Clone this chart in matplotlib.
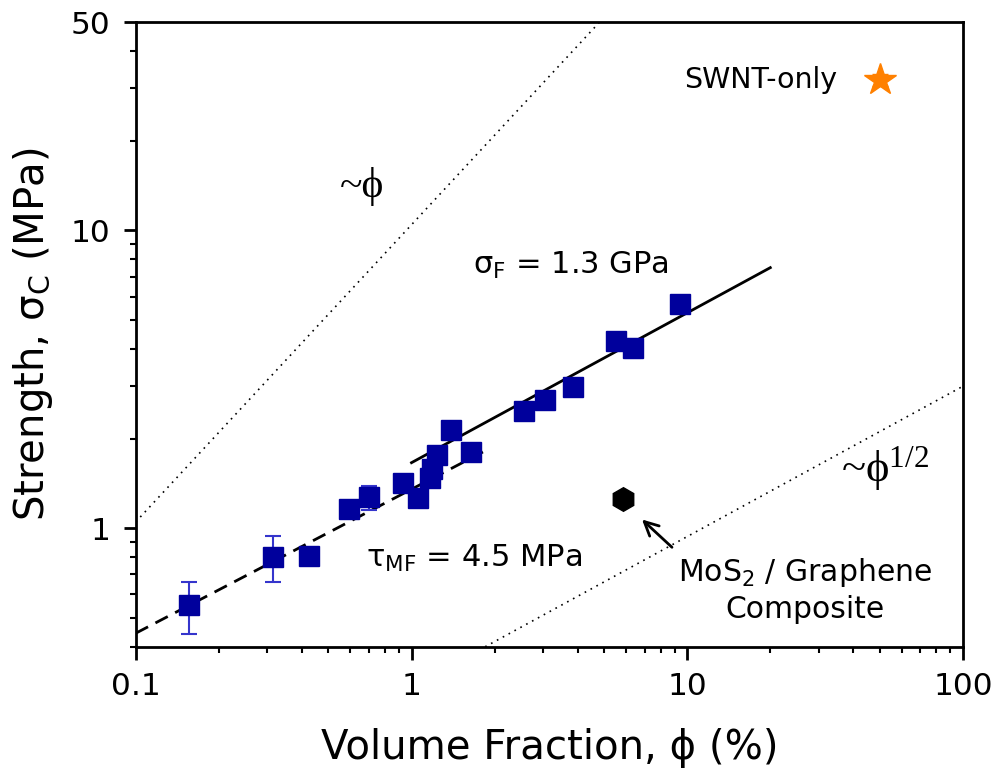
import numpy as np
import matplotlib
matplotlib.use('Agg')
from matplotlib import pyplot as plt
from matplotlib.ticker import FixedLocator, NullFormatter

plt.rcParams['font.family'] = ['DejaVu Sans']
plt.rcParams['mathtext.default'] = 'regular'

# composite data (volume fraction %, strength MPa)
phi = [0.156, 0.314, 0.424, 0.592, 0.70, 0.93, 1.06, 1.165, 1.19, 1.235,
       1.39, 1.65, 2.56, 3.04, 3.85, 5.51, 6.35, 9.4]
sig = [0.552, 0.80, 0.806, 1.158, 1.27, 1.42, 1.26, 1.47, 1.58, 1.76,
       2.13, 1.80, 2.47, 2.69, 2.99, 4.24, 4.02, 5.65]
err = [0.11, 0.14, 0.03, 0.07, 0.12, 0.04, 0.04, 0.04, 0.04, 0.04,
       0.04, 0.04, 0.05, 0.05, 0.05, 0.1, 0.3, 0.1]

# fit lines (end points)
fitF_x = [1.0, 20.0]
fitF_y = [1.66, 7.5]
fitMF_x = [0.1, 1.85]
fitMF_y = [0.444, 1.82]
# guide lines
lin_x = [0.1, 4.8]
lin_y = [1.05, 50]
half_x = [1.85, 100]
half_y = [0.4, 3.0]

# other points
mos2_x, mos2_y = [5.84], [1.25]
swnt_x, swnt_y = [50], [32]

fig = plt.figure(figsize=(9.98, 7.69), dpi=100)
ax = fig.add_axes([0.136, 0.159, 0.829, 0.812])
ax.set_xscale('log')
ax.set_yscale('log')

ax.plot(lin_x, lin_y, color='k', lw=1.2, ls=(0, (1, 3)))
ax.plot(half_x, half_y, color='k', lw=1.2, ls=(0, (1, 3)))
ax.plot(fitF_x, fitF_y, color='k', lw=2)
ax.plot(fitMF_x, fitMF_y, color='k', lw=2, dashes=(5, 3))

ax.errorbar(phi, sig, yerr=err, fmt='none', ecolor='#3535cc', elinewidth=1.5,
            capsize=6, capthick=1.5, zorder=3)
ax.plot(phi, sig, 's', color='#00009c', ms=15, zorder=4)

ax.plot(mos2_x, mos2_y, 'h', color='k', ms=17)
ax.errorbar(swnt_x, swnt_y, yerr=1.5, fmt='*', color='#ff8000', ms=24,
            ecolor='#ff8000', capsize=6)

ax.annotate('', xy=(6.85, 1.07), xytext=(8.8, 0.863),
            arrowprops=dict(arrowstyle='->', lw=2, color='k', mutation_scale=25,
                            shrinkA=0, shrinkB=0))

ax.text(0.66, 14.1, '~ϕ', family='Liberation Serif', fontsize=30,
        ha='center', va='center')
ax.text(52, 1.58, '~ϕ$^{1/2}$', family='Liberation Serif', fontsize=32,
        ha='center', va='center')
ax.text(3.8, 7.6, r'$\sigma_F$ = 1.3 GPa', fontsize=22, ha='center', va='center')
ax.text(1.68, 0.79, r'$\tau_{MF}$ = 4.5 MPa', fontsize=22, ha='center', va='center')
ax.text(18.5, 32, 'SWNT-only', fontsize=20.5, ha='center', va='center')
ax.text(26.7, 0.62, 'MoS$_2$ / Graphene\nComposite', fontsize=21.5,
        ha='center', va='center', linespacing=1.25)

ax.set_xlim(0.1, 100)
ax.set_ylim(0.4, 50)
ax.yaxis.set_major_locator(FixedLocator([1, 10, 50]))
ax.set_yticklabels(['1', '10', '50'])
ax.xaxis.set_major_locator(FixedLocator([0.1, 1, 10, 100]))
ax.set_xticklabels(['0.1', '1', '10', '100'])
ax.yaxis.set_minor_locator(FixedLocator([0.4, 0.5, 0.6, 0.7, 0.8, 0.9, 2, 3, 4, 5, 6, 7, 8, 9, 20, 30, 40]))
ax.yaxis.set_minor_formatter(NullFormatter())
ax.tick_params(which='major', direction='out', length=9, width=2, labelsize=22.5, pad=9)
ax.tick_params(which='minor', direction='out', length=4.5, width=1.5)
for s in ax.spines.values():
    s.set_linewidth(2)

ax.set_xlabel('Volume Fraction, ϕ (%)', fontsize=29)
ax.xaxis.set_label_coords(0.5, -0.13)
ax.set_ylabel(r'Strength, $\sigma_C$ (MPa)', fontsize=29)
ax.yaxis.set_label_coords(-0.097, 0.5)

fig.savefig('out.png', dpi=100)
